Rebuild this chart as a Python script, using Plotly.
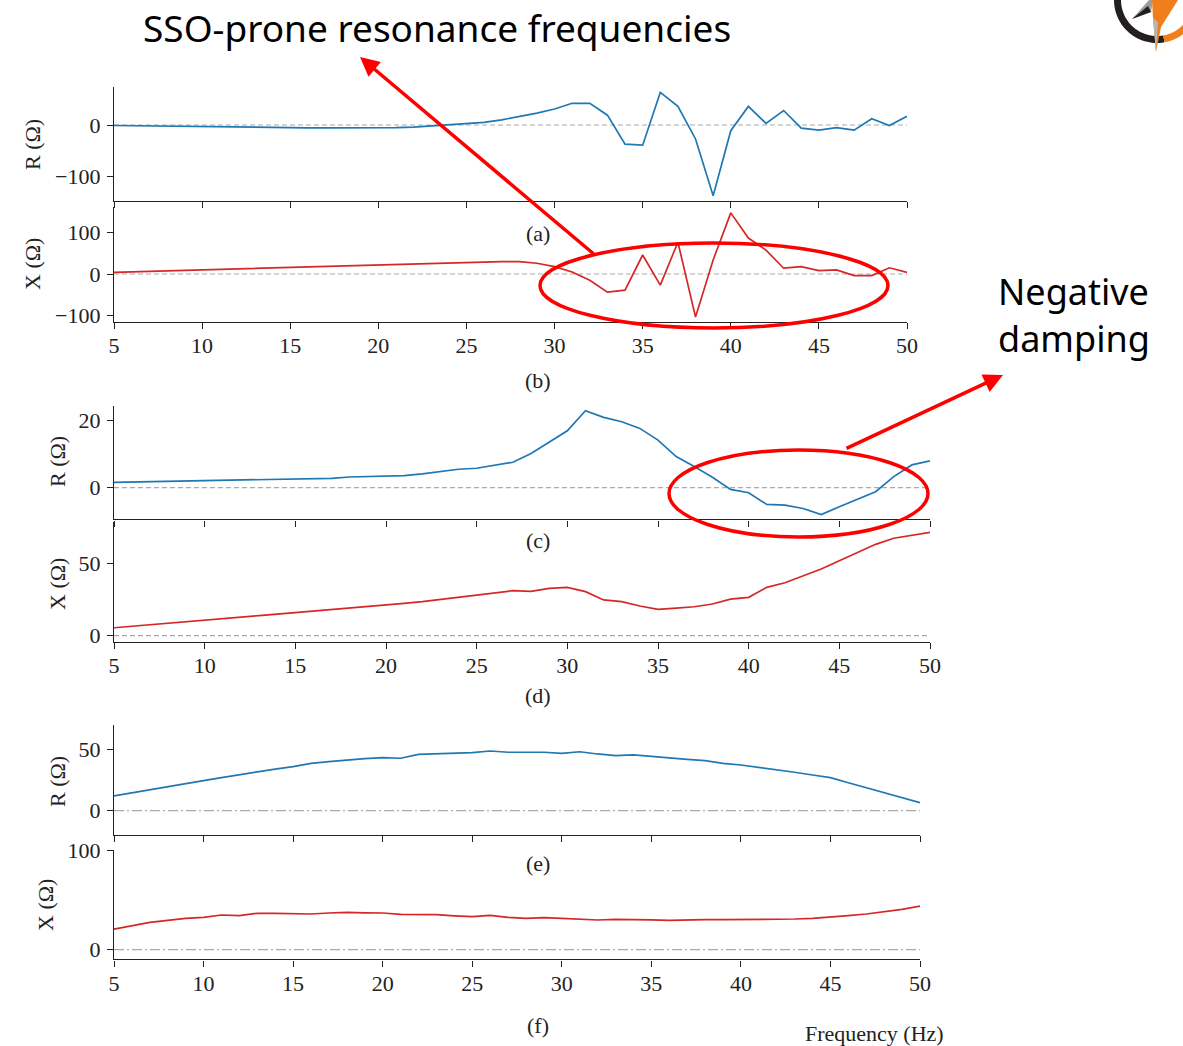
import math
import plotly.graph_objects as go

W, H = 1183, 1046

freq = list(range(5, 51))
freq_ticks = [5, 10, 15, 20, 25, 30, 35, 40, 45, 50]

# (a) R and (b) X
r_ab = [-1, -1.5, -2, -2.5, -3, -3.5, -4, -4, -4.5, -5, -5.5, -5.5, -5.5, -5.5, -5.5, -5.5,
        -5, -4, -2, 0, 2, 5, 10, 16, 23, 31, 42, 42, 19, -37, -39, 63, 36, -27, -137, -11,
        36, 3, 28, -6, -10, -5, -10, 12, -1, 17]
x_ab = [4, 5.2, 6.4, 7.6, 8.8, 10, 11.2, 12.4, 13.6, 14.8, 16, 17.2, 18.4, 19.6, 20.8, 22,
        23.2, 24.4, 25.6, 26.8, 28, 29, 30, 30, 26, 18, 5, -15, -44, -39, 46, -27, 77, -104,
        34, 148, 87, 58, 14, 18, 8, 10, -4, -4, 15, 4]
# (c) R and (d) X
r_cd = [1.6, 1.7, 1.8, 2.0, 2.1, 2.2, 2.3, 2.4, 2.5, 2.6, 2.6, 2.7, 2.8, 3.2, 3.4, 3.6, 3.6,
        4.1, 4.8, 5.5, 5.8, 6.8, 7.6, 10.2, 13.7, 17, 23, 21, 19.7, 17.7, 14.2, 9.3, 6.3, 3.1,
        -0.5, -1.5, -5, -5.2, -6.2, -8, -5.7, -3.5, -1.2, 3.3, 6.8, 8]
x_cd = [5.5, 6.6, 7.6, 8.7, 9.8, 10.8, 11.8, 12.8, 13.9, 14.9, 15.9, 17, 18, 19.1, 20.1, 21.2,
        22.3, 23.5, 25, 26.5, 28.1, 29.6, 31.1, 30.6, 32.7, 33.4, 30.4, 24.7, 23.5, 20.5, 18.2,
        19.1, 20, 21.9, 25.3, 26.5, 33.4, 36.6, 41.5, 46, 51.8, 57.6, 63.1, 67.3, 69.1, 71.4]
# (e) R and (f) X
r_ef = [12, 14.4, 16.8, 19.4, 22, 24.5, 27, 29.4, 31.8, 33.9, 35.9, 38.6, 39.9, 41.3, 42.4,
        43.2, 42.7, 45.9, 46.4, 46.8, 47.3, 48.6, 47.6, 47.6, 47.6, 46.7, 48, 46.2, 44.8, 45.4,
        44, 43.2, 41.8, 40.8, 38.6, 37.2, 35.3, 33.7, 31.3, 29.1, 26.9, 22.8, 18.8, 14.7, 10.6, 6.5]
x_ef = [20.7, 24.2, 27.4, 29.5, 31.4, 32.4, 34.8, 34.1, 36.5, 36.5, 36.5, 35.8, 36.8, 37.5, 37,
        36.8, 35.5, 35.3, 35.1, 34, 33.1, 34.4, 32.4, 31.4, 32.1, 31.4, 30.8, 29.8, 30.4, 30.4,
        30, 29.4, 30, 30.1, 30.1, 30.1, 30.1, 30.3, 30.8, 31.4, 32.4, 34.1, 35.8, 37.8, 40.5, 43.8]

panel_labels = ["(a)", "(b)", "(c)", "(d)", "(e)", "(f)"]
y_titles = ["R (Ω)", "X (Ω)", "R (Ω)", "X (Ω)", "R (Ω)", "X (Ω)"]

BLUE = "#1f77b4"
RED = "#d62728"
SERIF = "Liberation Serif"
SANS = "Noto Sans"
FS = 22

panels = [
    dict(l=114, r=907, t=87.3, b=200.7, t1=(0, 125.0), t2=(-100, 176.7), dtick=100, labels=False, dash="5px,3px"),
    dict(l=114, r=907, t=207.0, b=321.7, t1=(100, 232.7), t2=(0, 274.0), dtick=100, labels=True, dash="5px,3px"),
    dict(l=114, r=930, t=405.7, b=519.3, t1=(20, 420.7), t2=(0, 487.7), dtick=20, labels=False, dash="5px,3px"),
    dict(l=114, r=930, t=521.7, b=641.7, t1=(50, 563.3), t2=(0, 635.7), dtick=50, labels=True, dash="5px,3px"),
    dict(l=114, r=920, t=725.0, b=835.0, t1=(50, 749.3), t2=(0, 810.7), dtick=50, labels=False, dash="10px,3px,2px,3px"),
    dict(l=114, r=920, t=850.0, b=959.3, t1=(100, 850.0), t2=(0, 949.7), dtick=100, labels=True, dash="10px,3px,2px,3px"),
]
series = [(r_ab, BLUE), (x_ab, RED), (r_cd, BLUE), (x_cd, RED), (r_ef, BLUE), (x_ef, RED)]


def px(x):
    return x / W


def py(y):
    return 1 - y / H


fig = go.Figure()
layout = dict(
    width=W, height=H, margin=dict(l=0, r=0, t=0, b=0, pad=0, autoexpand=False),
    paper_bgcolor="white", plot_bgcolor="white", showlegend=False,
    font=dict(family=SERIF, size=FS, color="#222"),
)
shapes = []
annotations = []

for i, (p, (vals, col)) in enumerate(zip(panels, series)):
    n = i + 1
    (v1, p1), (v2, p2) = p["t1"], p["t2"]
    scale = (p2 - p1) / (v1 - v2)
    ymax = v1 + (p1 - p["t"]) / scale
    ymin = v2 - (p["b"] - p2) / scale
    xk = "xaxis" if n == 1 else f"xaxis{n}"
    yk = "yaxis" if n == 1 else f"yaxis{n}"
    xr = "x" if n == 1 else f"x{n}"
    yr = "y" if n == 1 else f"y{n}"
    layout[xk] = dict(
        domain=[px(p["l"]), px(p["r"])], anchor=yr, range=[5, 50], automargin=False,
        tickvals=freq_ticks, showticklabels=p["labels"], ticks="outside", ticklen=6,
        tickwidth=1.2, tickcolor="#222", showline=True, linecolor="#222", linewidth=1.4,
        showgrid=False, zeroline=False, tickfont=dict(family=SERIF, size=FS, color="#222"),
        ticklabelstandoff=-2,
    )
    layout[yk] = dict(
        domain=[py(p["b"]), py(p["t"])], anchor=xr, range=[ymin, ymax], automargin=False,
        dtick=p["dtick"], tick0=0, ticks="outside", ticklen=6, tickwidth=1.2,
        tickcolor="#222", showline=True, linecolor="#222", linewidth=1.4,
        showgrid=False, zeroline=False, tickfont=dict(family=SERIF, size=FS, color="#222"),
        ticklabelstandoff=2,
    )
    shapes.append(dict(type="line", xref=f"{xr} domain", yref=yr, x0=0, x1=1, y0=0, y1=0,
                       line=dict(color="#aaaaaa", width=1.2, dash=p["dash"]), layer="below"))
    fig.add_trace(go.Scatter(x=freq, y=vals, mode="lines", line=dict(color=col, width=1.7),
                             xaxis=xr, yaxis=yr, hoverinfo="skip"))

ytitle_pos = [(32, 144), (32, 264), (57, 462), (57, 584), (57, 782), (45, 905)]
for t, (x, y) in zip(y_titles, ytitle_pos):
    annotations.append(dict(text=t, x=px(x), y=py(y), xref="paper", yref="paper",
                            showarrow=False, textangle=-90, xanchor="center", yanchor="middle",
                            font=dict(family=SERIF, size=FS, color="#222")))
letter_pos = [(538, 233), (538, 380), (538, 540), (538, 695), (538, 863), (538, 1025)]
for t, (x, y) in zip(panel_labels, letter_pos):
    annotations.append(dict(text=t, x=px(x), y=py(y), xref="paper", yref="paper",
                            showarrow=False, xanchor="center", yanchor="middle",
                            font=dict(family=SERIF, size=FS, color="#222")))
annotations.append(dict(text="Frequency (Hz)", x=px(874), y=py(1033), xref="paper", yref="paper",
                        showarrow=False, xanchor="center", yanchor="middle",
                        font=dict(family=SERIF, size=FS, color="#222")))

annotations.append(dict(text="SSO-prone resonance frequencies", x=px(141), y=1.0,
                        xref="paper", yref="paper", showarrow=False, xanchor="left",
                        yanchor="top", font=dict(family=SANS, size=37, color="black")))
annotations.append(dict(text="Negative<br>damping", x=px(996), y=py(315),
                        xref="paper", yref="paper", showarrow=False, xanchor="left",
                        yanchor="middle", align="left",
                        font=dict(family=SANS, size=36, color="black")))
annotations.append(dict(text="", x=px(360), y=py(57), xref="paper", yref="paper",
                        showarrow=True, ax=235, ay=198, arrowhead=2, arrowsize=1.1,
                        arrowwidth=3.5, arrowcolor="#ff0000"))
annotations.append(dict(text="", x=px(1003), y=py(375), xref="paper", yref="paper",
                        showarrow=True, ax=-158, ay=74, arrowhead=2, arrowsize=1.1,
                        arrowwidth=3.5, arrowcolor="#ff0000"))
shapes.append(dict(type="circle", xref="paper", yref="paper", x0=px(540), x1=px(888),
                   y0=py(328), y1=py(243), line=dict(color="#ff0000", width=3.5)))
shapes.append(dict(type="circle", xref="paper", yref="paper", x0=px(669), x1=px(928),
                   y0=py(537), y1=py(450), line=dict(color="#ff0000", width=3.5)))


def arc_path(cx, cy, r0, r1, a0, a1, n=30):
    pts = []
    for k in range(n + 1):
        a = math.radians(a0 + (a1 - a0) * k / n)
        pts.append((cx + r1 * math.cos(a), cy + r1 * math.sin(a)))
    for k in range(n, -1, -1):
        a = math.radians(a0 + (a1 - a0) * k / n)
        pts.append((cx + r0 * math.cos(a), cy + r0 * math.sin(a)))
    return "M " + " L ".join(f"{px(x):.5f},{py(y):.5f}" for x, y in pts) + " Z"


def poly_path(pts):
    return "M " + " L ".join(f"{px(x):.5f},{py(y):.5f}" for x, y in pts) + " Z"


shapes.append(dict(type="path", xref="paper", yref="paper", path=arc_path(1157, 0, 36, 43, 80, 180),
                   fillcolor="#231f20", line=dict(width=0)))
shapes.append(dict(type="path", xref="paper", yref="paper", path=arc_path(1157, 0, 36, 43, 28, 80),
                   fillcolor="#f07f1b", line=dict(width=0)))
shapes.append(dict(type="path", xref="paper", yref="paper",
                   path=poly_path([(1132, 19), (1149, 0), (1153, 0), (1151, 12)]),
                   fillcolor="#9d9d9d", line=dict(width=0)))
shapes.append(dict(type="path", xref="paper", yref="paper",
                   path=poly_path([(1132, 19), (1151, 12), (1148, 6)]),
                   fillcolor="#231f20", line=dict(width=0)))
shapes.append(dict(type="path", xref="paper", yref="paper",
                   path=poly_path([(1152, 0), (1178, 0), (1161, 27), (1156, 52), (1153, 18)]),
                   fillcolor="#f07f1b", line=dict(width=0)))
shapes.append(dict(type="path", xref="paper", yref="paper",
                   path=poly_path([(1153, 18), (1158, 22), (1156, 52)]),
                   fillcolor="#b5b5b5", line=dict(width=0)))

layout["shapes"] = shapes
layout["annotations"] = annotations
fig.update_layout(**layout)
fig.write_html("out.html", config={"displayModeBar": False},
               post_script="document.body.style.margin='0px';document.body.style.overflow='hidden';")
